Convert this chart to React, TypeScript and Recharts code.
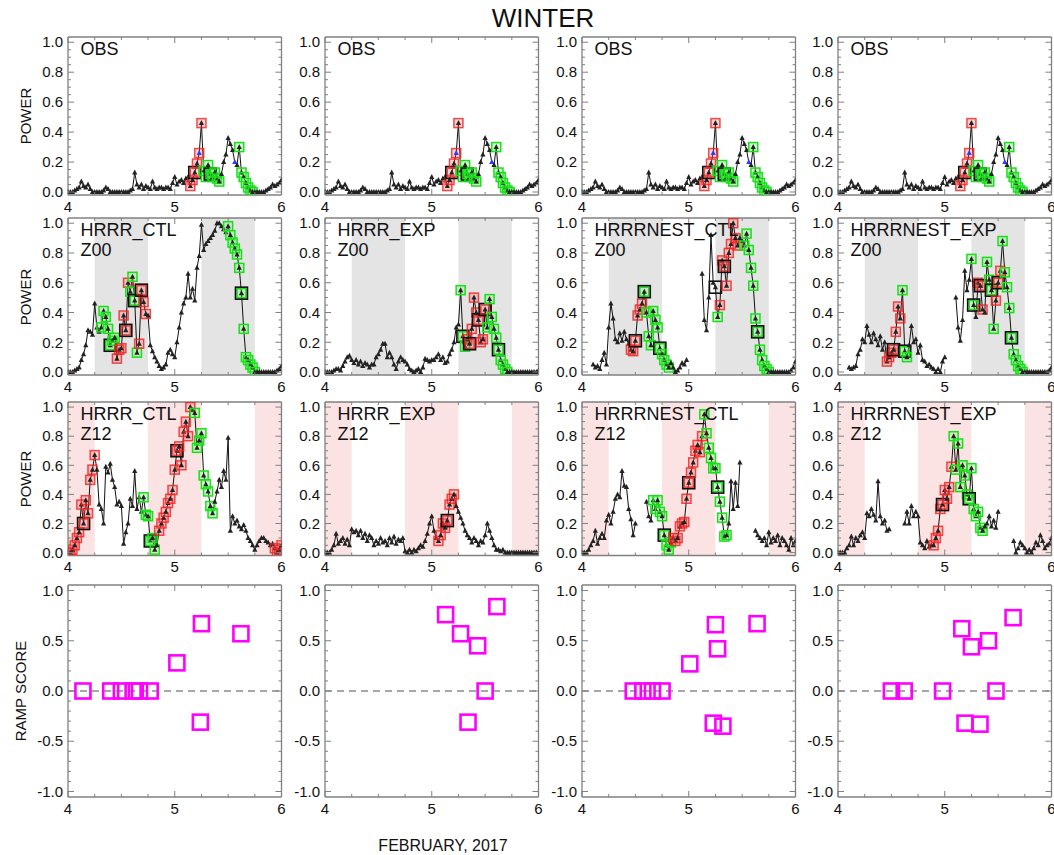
import React from 'react'
import { ComposedChart, Line, Scatter, XAxis, YAxis, ReferenceArea, ReferenceLine } from 'recharts'

// 30-minute steps from Feb 4 00Z to Feb 6 00Z (day of month)
const times = Array.from({ length: 97 }, (_, i) => 4 + i / 48)

const obsPower = [
  0.00, 0.00, 0.00, 0.01, 0.02, 0.03, 0.07, 0.04, 0.03, 0.05,
  0.02, 0.00, 0.00, 0.00, 0.00, 0.00, 0.01, 0.03, 0.02, 0.00,
  0.00, 0.00, 0.00, 0.00, 0.00, 0.00, 0.00, 0.00, 0.01, 0.02,
  0.13, 0.05, 0.03, 0.05, 0.02, 0.04, 0.03, 0.02, 0.07, 0.03,
  0.02, 0.03, 0.03, 0.02, 0.03, 0.03, 0.02, 0.06, 0.10, 0.05,
  0.07, 0.08, 0.06, 0.09, 0.10, 0.04, 0.08, 0.13, 0.19, 0.26,
  0.46, 0.14, 0.10, 0.18, 0.12, 0.10, 0.13, 0.09, 0.07, 0.12,
  0.20, 0.25, 0.36, 0.32, 0.28, 0.20, 0.18, 0.30, 0.13, 0.10,
  0.06, 0.03, 0.01, 0.00, 0.00, 0.00, 0.00, 0.00, 0.00, 0.01,
  0.02, 0.03, 0.05, 0.04, 0.05, 0.06, 0.08,
]

const ctlZ00 = [
  0.00, 0.00, 0.00, 0.01, 0.02, 0.03, 0.08, 0.12, 0.18, 0.28,
  0.27, 0.25, 0.46, 0.30, 0.27, 0.30, 0.41, 0.37, 0.29, 0.18,
  0.21, 0.23, 0.09, 0.15, 0.16, 0.38, 0.28, 0.60, 0.54, 0.64,
  0.48, 0.13, 0.19, 0.55, 0.47, 0.39, 0.38, 0.18, 0.14, 0.10,
  0.07, 0.04, 0.02, 0.03, 0.05, 0.13, 0.15, 0.12, 0.10, 0.20,
  0.30, 0.40, 0.46, 0.50, 0.66, 0.50, 0.56, 0.48, 0.70, 0.78,
  0.99, 0.82, 0.86, 0.88, 0.90, 0.92, 0.95, 1.00, 1.00, 0.98,
  0.96, 0.94, 0.98, 0.92, 0.87, 0.83, 0.79, 0.70, 0.53, 0.29,
  0.10, 0.08, 0.05, 0.03, 0.00, 0.00, 0.00, 0.00, 0.00, 0.00,
  0.00, 0.00, 0.00, 0.00, 0.01, 0.02, 0.04,
]

const expZ00 = [
  0.00, 0.00, 0.00, 0.00, 0.01, 0.02, 0.02, 0.01, 0.04, 0.07,
  0.10, 0.11, 0.08, 0.06, 0.08, 0.05, 0.07, 0.04, 0.06, 0.05,
  0.03, 0.05, 0.05, 0.10, 0.12, 0.15, 0.19, 0.19, 0.10, 0.13,
  0.10, 0.05, 0.02, 0.07, 0.10, 0.08, 0.07, 0.05, 0.02, 0.01,
  0.00, 0.01, 0.02, 0.00, 0.03, 0.09, 0.08, 0.07, 0.08, 0.08,
  0.10, 0.12, 0.08, 0.10, 0.06, 0.07, 0.12, 0.15, 0.20, 0.30,
  0.32, 0.55, 0.24, 0.17, 0.22, 0.19, 0.29, 0.50, 0.40, 0.35,
  0.20, 0.22, 0.42, 0.30, 0.49, 0.37, 0.29, 0.23, 0.15, 0.08,
  0.05, 0.02, 0.00, 0.00, 0.00, 0.00, 0.00, 0.00, 0.00, 0.00,
  0.00, 0.00, 0.00, 0.00, 0.00, 0.00, 0.01,
]

const nestCtlZ00 = [
  null, null, null, null, null, 0.05, 0.03, 0.04, 0.02, 0.08,
  0.13, 0.05, 0.30, 0.46, 0.36, 0.22, 0.20, 0.26, 0.21, 0.27,
  0.22, 0.19, 0.15, 0.14, 0.21, 0.38, 0.42, 0.46, 0.54, 0.40,
  0.24, 0.18, 0.41, 0.35, 0.30, 0.16, 0.12, 0.08, 0.05, 0.03,
  0.06, 0.03, 0.00, 0.01, 0.03, 0.06, 0.05, 0.08, null, null,
  null, null, null, null, 0.66, 0.35, 0.28, 0.50, 0.92, 0.60,
  0.57, 0.37, 0.45, 0.75, 0.71, 0.58, 0.80, 0.86, 1.00, 0.90,
  0.85, 0.90, 0.88, 0.85, 0.93, 0.82, 0.70, 0.58, 0.36, 0.27,
  0.15, 0.08, 0.04, 0.02, 0.00, 0.00, 0.00, 0.00, 0.00, 0.00,
  0.00, 0.00, 0.00, 0.00, 0.01, 0.03, 0.07,
]

const nestExpZ00 = [
  null, null, null, null, null, 0.03, 0.02, 0.03, 0.04, 0.12,
  0.15, 0.22, 0.20, 0.31, 0.25, 0.20, 0.26, 0.22, 0.18, 0.24,
  0.15, 0.20, 0.07, 0.10, 0.13, 0.15, 0.27, 0.44, 0.36, 0.55,
  0.14, 0.10, 0.18, 0.31, 0.20, 0.22, 0.13, 0.18, 0.08, 0.07,
  0.04, 0.05, 0.03, 0.02, 0.00, 0.02, 0.00, 0.07, 0.10, null,
  null, null, null, 0.50, 0.30, 0.21, 0.35, 0.68, 0.55, 0.62,
  0.76, 0.45, 0.37, 0.60, 0.58, 0.42, 0.40, 0.74, 0.62, 0.55,
  0.29, 0.48, 0.60, 0.68, 0.88, 0.67, 0.57, 0.43, 0.23, 0.12,
  0.08, 0.04, 0.02, 0.00, 0.00, 0.00, 0.00, 0.00, 0.00, 0.00,
  0.00, 0.00, 0.00, 0.00, 0.00, 0.01, 0.03,
]

const ctlZ12 = [
  0.00, 0.00, 0.02, 0.05, 0.10, 0.14, 0.33, 0.20, 0.36, 0.27,
  0.50, 0.57, 0.67, 0.57, 0.33, 0.30, 0.20, 0.59, 0.55, 0.61,
  0.50, 0.45, 0.33, 0.35, 0.32, 0.06, 0.14, 0.20, 0.37, 0.32,
  0.56, 0.30, 0.38, 0.28, 0.38, 0.26, 0.25, 0.08, 0.10, 0.02,
  0.05, 0.15, 0.20, 0.24, 0.28, 0.34, 0.37, 0.43, 0.57, 0.70,
  0.73, 0.60, 0.83, 0.90, 0.80, 1.00, 0.98, 0.96, 0.72, 0.77,
  0.82, 0.53, 0.47, 0.42, 0.32, 0.27, 0.35, 0.42, 0.50, 0.45,
  0.56, 0.50, 0.79, 0.15, 0.25, 0.20, 0.22, 0.18, 0.16, 0.19,
  0.15, 0.10, 0.08, 0.05, 0.02, 0.05, 0.08, 0.10, 0.10, 0.08,
  0.07, 0.05, 0.06, 0.03, 0.00, 0.02, 0.05,
]

const expZ12 = [
  0.00, 0.00, 0.00, 0.02, 0.05, 0.13, 0.06, 0.08, 0.10, 0.06,
  0.09, 0.05, 0.16, 0.14, 0.15, 0.12, 0.15, 0.10, 0.13, 0.08,
  0.12, 0.10, 0.05, 0.08, 0.06, 0.10, 0.07, 0.08, 0.05, 0.10,
  0.07, 0.11, 0.06, 0.09, 0.08, 0.10, 0.01, 0.00, 0.02, 0.00,
  0.02, 0.01, 0.03, 0.05, 0.04, 0.08, 0.13, 0.20, 0.25, 0.15,
  0.10, 0.08, 0.12, 0.20, 0.17, 0.22, 0.33, 0.37, 0.40, 0.32,
  0.28, 0.24, 0.20, 0.15, 0.12, 0.10, 0.07, 0.10, 0.08, 0.05,
  0.08, 0.07, 0.12, 0.20, 0.15, 0.10, 0.05, 0.02, 0.02, 0.01,
  0.02, 0.00, 0.00, 0.00, 0.00, 0.00, 0.00, 0.00, 0.00, 0.00,
  0.00, 0.00, 0.00, 0.00, 0.00, 0.00, 0.00,
]

const nestCtlZ12 = [
  0.00, 0.00, 0.00, 0.02, 0.05, 0.08, 0.15, 0.06, 0.10, 0.13,
  0.10, 0.22, 0.26, 0.20, 0.28, 0.37, 0.40, 0.38, 0.56, 0.46,
  0.45, 0.30, 0.23, 0.12, 0.20, null, null, null, null, 0.35,
  0.25, 0.22, 0.36, 0.30, 0.36, 0.28, 0.25, 0.12, 0.05, 0.02,
  0.07, 0.10, 0.08, 0.10, 0.18, 0.20, 0.21, 0.37, 0.48, 0.55,
  0.62, 0.70, 0.74, 0.69, 0.80, 0.95, 0.82, 0.72, 0.65, 0.58,
  0.58, 0.45, 0.35, 0.24, 0.11, 0.12, 0.20, 0.49, 0.30, 0.48,
  0.32, 0.62, null, null, null, null, null, null, 0.15, 0.12,
  0.10, 0.08, 0.10, 0.05, 0.14, 0.07, 0.10, 0.08, 0.12, 0.05,
  0.10, 0.08, 0.05, 0.02, 0.10, 0.05, 0.08,
]

const nestExpZ12 = [
  0.00, 0.00, 0.00, 0.00, 0.03, 0.05, 0.11, 0.05, 0.10, 0.08,
  0.12, 0.14, 0.10, 0.27, 0.25, 0.30, 0.26, 0.22, 0.49, 0.25,
  0.20, 0.22, 0.15, 0.16, null, null, null, null, null, null,
  0.20, 0.28, 0.20, 0.32, 0.25, 0.28, 0.25, 0.07, 0.05, 0.03,
  0.08, 0.04, 0.05, 0.05, 0.10, 0.15, 0.30, 0.33, 0.43, 0.37,
  0.45, 0.59, 0.80, 0.57, 0.75, 0.45, 0.60, 0.53, 0.40, 0.37,
  0.58, 0.30, 0.25, 0.28, 0.17, 0.15, 0.18, 0.20, 0.25, 0.18,
  0.22, 0.17, 0.28, null, null, null, null, null, null, 0.08,
  0.00, 0.03, 0.07, 0.05, 0.03, 0.00, 0.02, 0.00, 0.03, 0.07,
  0.05, 0.12, 0.08, 0.03, 0.05, 0.06, 0.10,
]

// ramp windows in days: up = red boxes, down = green boxes; keys = black boxes
const obsUp = [[5.14, 5.26]]
const obsDown = [[5.27, 5.42], [5.59, 5.74]]
const obsKeys = [5.1875, 5.3333]
const obsBlue = [5.2292, 5.5625]

const ctlZ00Up = [[4.45, 4.57], [4.66, 4.74]]
const ctlZ00Down = [[4.31, 4.44], [4.58, 4.65], [5.49, 5.76]]
const ctlZ00Keys = [4.396, 4.542, 4.625, 4.688, 5.625]

const expZ00Up = [[5.33, 5.51]]
const expZ00Down = [[5.26, 5.32], [5.52, 5.72]]
const expZ00Keys = [5.292, 5.354, 5.438, 5.5, 5.625]

const nestCtlZ00Up = [[4.45, 4.57], [5.29, 5.46]]
const nestCtlZ00Down = [[4.58, 4.82], [5.26, 5.28], [5.52, 5.76]]
const nestCtlZ00Keys = [4.5, 4.583, 4.729, 5.25, 5.333, 5.646]

const nestExpZ00Up = [[4.45, 4.59], [5.30, 5.36], [5.47, 5.53]]
const nestExpZ00Down = [[4.60, 4.65], [5.24, 5.29], [5.38, 5.46], [5.54, 5.74]]
const nestExpZ00Keys = [4.521, 4.625, 5.271, 5.333, 5.438, 5.5, 5.625]

const ctlZ12Up = [[4.0, 4.25], [4.84, 5.16], [5.92, 6.0]]
const ctlZ12Down = [[4.70, 4.83], [5.17, 5.36]]
const ctlZ12Keys = [4.146, 4.771, 5.021]

const expZ12Up = [[5.06, 5.21]]
const expZ12Down: number[][] = []
const expZ12Keys = [5.146]

const nestCtlZ12Up = [[4.85, 5.13]]
const nestCtlZ12Down = [[4.65, 4.84], [5.14, 5.36]]
const nestCtlZ12Keys = [4.771, 5.0, 5.271]

const nestExpZ12Up = [[4.88, 5.07]]
const nestExpZ12Down = [[5.08, 5.36]]
const nestExpZ12Keys = [4.979, 5.229]

// shaded forecast windows
const z00Bands = [[4.25, 4.75], [5.25, 5.75]]
const z12Bands = [[4.0, 4.25], [4.75, 5.25], [5.75, 6.0]]

// ramp scores per column
const ctlScoreT = [4.14, 4.40, 4.50, 4.61, 4.67, 4.77, 5.02, 5.25, 5.24, 5.62]
const ctlScoreV = [0, 0, 0, 0, 0, 0, 0.28, 0.67, -0.31, 0.57]
const expScoreT = [5.13, 5.27, 5.43, 5.61, 5.50, 5.34]
const expScoreV = [0.76, 0.57, 0.45, 0.84, 0, -0.31]
const nestCtlScoreT = [4.48, 4.57, 4.66, 4.75, 5.01, 5.25, 5.27, 5.64, 5.23, 5.32]
const nestCtlScoreV = [0, 0, 0, 0, 0.27, 0.66, 0.42, 0.67, -0.32, -0.35]
const nestExpScoreT = [4.50, 4.62, 4.98, 5.48, 5.16, 5.25, 5.41, 5.64, 5.19, 5.33]
const nestExpScoreV = [0, 0, 0, 0, 0.62, 0.44, 0.50, 0.73, -0.32, -0.33]

// ticks
const dayMajor = [4, 5, 6]
const dayTicks = [4, 4.25, 4.5, 4.75, 5, 5.25, 5.5, 5.75, 6]
const powerMajor = [0, 0.2, 0.4, 0.6, 0.8, 1.0]
const powerTicks = Array.from({ length: 21 }, (_, i) => Math.round(i * 5) / 100)
const scoreMajor = [-1, -0.5, 0, 0.5, 1]
const scoreTicks = Array.from({ length: 21 }, (_, i) => (i - 10) / 10)

const FONT = '"Liberation Sans", Arial, Helvetica, sans-serif'
const AXIS = '#808080'
const COL_LEFT = [68, 325, 582, 838]
const PLOT_W = 213.5
const ROWS = [
  { top: 36.5, h: 158 },
  { top: 218, h: 157 },
  { top: 402, h: 153.5 },
  { top: 585, h: 212 },
]
const ML = 50
const MR = 12
const MT = 10
const MB = 28

type Side = 'left' | 'right' | 'top' | 'bottom'

const isMajor = (v: number, majors: number[]) => majors.some(m => Math.abs(m - v) < 1e-6)

function makeTick(side: Side, majors: number[], fmt?: (v: number) => string) {
  return (props: any) => {
    const { x, y, payload } = props
    const v = payload.value
    const major = isMajor(v, majors)
    const len = major ? 6 : 3
    const label = major && fmt ? fmt(v) : null
    const txt = { fontSize: 15, fill: '#111', fontFamily: FONT }
    if (side === 'left') {
      return (
        <g>
          <line x1={x} x2={x + len} y1={y} y2={y} stroke={AXIS} />
          {label && <text x={x - 5} y={y} dy="0.35em" textAnchor="end" {...txt}>{label}</text>}
        </g>
      )
    }
    if (side === 'right') return <g><line x1={x} x2={x - len} y1={y} y2={y} stroke={AXIS} /></g>
    if (side === 'top') return <g><line x1={x} x2={x} y1={y} y2={y + len} stroke={AXIS} /></g>
    return (
      <g>
        <line x1={x} x2={x} y1={y} y2={y - len} stroke={AXIS} />
        {label && <text x={x} y={y + 6} dy="0.71em" textAnchor="middle" {...txt}>{label}</text>}
      </g>
    )
  }
}

function frameAxes(domain: number[], ticks: number[], majors: number[]) {
  const common = { tickLine: false, tickSize: 0, tickMargin: 0, interval: 0 as const, allowDataOverflow: true, axisLine: { stroke: AXIS, strokeWidth: 1.3 } }
  return [
    <XAxis key="xb" xAxisId="b" dataKey="t" type="number" domain={[4, 6]} ticks={dayTicks} orientation="bottom" height={MB} tick={makeTick('bottom', dayMajor, v => String(v))} {...common} />,
    <XAxis key="xt" xAxisId="t" dataKey="t" type="number" domain={[4, 6]} ticks={dayTicks} orientation="top" height={MT} tick={makeTick('top', dayMajor)} {...common} />,
    <YAxis key="yl" yAxisId="l" type="number" domain={domain} ticks={ticks} width={ML} tick={makeTick('left', majors, v => v.toFixed(1))} {...common} />,
    <YAxis key="yr" yAxisId="r" type="number" domain={domain} ticks={ticks} orientation="right" width={MR} tick={makeTick('right', majors)} {...common} />,
  ]
}

const inWin = (t: number, wins: number[][]) => wins.some(w => t >= w[0] - 1e-6 && t <= w[1] + 1e-6)
const nearIdx = (list: number[], i: number) => list.some(k => Math.round((k - 4) * 48) === i)

const renderDot = (props: any) => {
  const { cx, cy, payload, index } = props
  if (!payload || payload.p == null || !Number.isFinite(cx) || !Number.isFinite(cy)) return <g key={`n${index}`} />
  return (
    <g key={`d${index}`}>
      {payload.up && <rect x={cx - 4.5} y={cy - 4.5} width={9} height={9} fill="#ff5050" fillOpacity={0.25} stroke="#ee2020" strokeOpacity={0.8} strokeWidth={1.5} />}
      {payload.down && <rect x={cx - 4.5} y={cy - 4.5} width={9} height={9} fill="#50ff50" fillOpacity={0.25} stroke="#18e018" strokeWidth={1.5} />}
      {payload.key && <rect x={cx - 6} y={cy - 6} width={12} height={12} fill="none" stroke="#111" strokeWidth={1.6} />}
      <polygon points={`${cx},${cy - 3} ${cx - 2.6},${cy + 2} ${cx + 2.6},${cy + 2}`} fill={payload.blue ? '#2a3cff' : '#222'} />
    </g>
  )
}

const renderSquare = (props: any) => {
  const { cx, cy } = props
  return <rect x={cx - 7.5} y={cy - 7.5} width={15} height={15} fill="none" stroke="#ff00ff" strokeWidth={2.6} />
}

interface PanelCfg {
  series: (number | null)[]
  up: number[][]
  down: number[][]
  keys: number[]
  blue?: number[]
  name: string
  run?: string
  bands: number[][]
  bandFill: string
}

function PowerPanel({ col, row, cfg }: { col: number; row: number; cfg: PanelCfg }) {
  const { top, h } = ROWS[row]
  const data = times.map((t, i) => ({
    t,
    p: cfg.series[i],
    up: inWin(t, cfg.up),
    down: inWin(t, cfg.down),
    key: nearIdx(cfg.keys, i),
    blue: cfg.blue ? nearIdx(cfg.blue, i) : false,
  }))
  return (
    <div style={{ position: 'absolute', left: COL_LEFT[col] - ML, top: top - MT }}>
      <ComposedChart width={ML + PLOT_W + MR} height={MT + h + MB} data={data} margin={{ top: 0, right: 0, bottom: 0, left: 0 }}>
        {cfg.bands.map((b, i) => (
          <ReferenceArea key={i} xAxisId="b" yAxisId="l" x1={b[0]} x2={b[1]} fill={cfg.bandFill} fillOpacity={1} stroke="none" />
        ))}
        {frameAxes([-0.02, 1.035], powerTicks, powerMajor)}
        <Line xAxisId="b" yAxisId="l" type="linear" dataKey="p" stroke="#111" strokeWidth={1} dot={renderDot} activeDot={false} connectNulls={false} isAnimationActive={false} />
      </ComposedChart>
      <div style={{ position: 'absolute', left: ML + 12.5, top: MT + 3.4, fontSize: 18, lineHeight: '19.4px', color: '#111', whiteSpace: 'pre', pointerEvents: 'none' }}>
        {cfg.name}{cfg.run ? '\n' + cfg.run : ''}
      </div>
    </div>
  )
}

function ScorePanel({ col, ts, vs }: { col: number; ts: number[]; vs: number[] }) {
  const { top, h } = ROWS[3]
  const data = ts.map((t, i) => ({ t, s: vs[i] }))
  return (
    <div style={{ position: 'absolute', left: COL_LEFT[col] - ML, top: top - MT }}>
      <ComposedChart width={ML + PLOT_W + MR} height={MT + h + MB} margin={{ top: 0, right: 0, bottom: 0, left: 0 }}>
        {frameAxes([-1.055, 1.055], scoreTicks, scoreMajor)}
        <ReferenceLine xAxisId="b" yAxisId="l" y={0} stroke="#8a8a8a" strokeWidth={1.6} strokeDasharray="7 5" />
        <Scatter xAxisId="b" yAxisId="l" data={data} dataKey="s" shape={renderSquare} isAnimationActive={false} />
      </ComposedChart>
    </div>
  )
}

const obsCfg: PanelCfg = { series: obsPower, up: obsUp, down: obsDown, keys: obsKeys, blue: obsBlue, name: 'OBS', bands: [], bandFill: '' }

const z00Cfgs: PanelCfg[] = [
  { series: ctlZ00, up: ctlZ00Up, down: ctlZ00Down, keys: ctlZ00Keys, name: 'HRRR_CTL', run: 'Z00', bands: z00Bands, bandFill: '#e4e4e4' },
  { series: expZ00, up: expZ00Up, down: expZ00Down, keys: expZ00Keys, name: 'HRRR_EXP', run: 'Z00', bands: z00Bands, bandFill: '#e4e4e4' },
  { series: nestCtlZ00, up: nestCtlZ00Up, down: nestCtlZ00Down, keys: nestCtlZ00Keys, name: 'HRRRNEST_CTL', run: 'Z00', bands: z00Bands, bandFill: '#e4e4e4' },
  { series: nestExpZ00, up: nestExpZ00Up, down: nestExpZ00Down, keys: nestExpZ00Keys, name: 'HRRRNEST_EXP', run: 'Z00', bands: z00Bands, bandFill: '#e4e4e4' },
]

const z12Cfgs: PanelCfg[] = [
  { series: ctlZ12, up: ctlZ12Up, down: ctlZ12Down, keys: ctlZ12Keys, name: 'HRRR_CTL', run: 'Z12', bands: z12Bands, bandFill: '#fce3e3' },
  { series: expZ12, up: expZ12Up, down: expZ12Down, keys: expZ12Keys, name: 'HRRR_EXP', run: 'Z12', bands: z12Bands, bandFill: '#fce3e3' },
  { series: nestCtlZ12, up: nestCtlZ12Up, down: nestCtlZ12Down, keys: nestCtlZ12Keys, name: 'HRRRNEST_CTL', run: 'Z12', bands: z12Bands, bandFill: '#fce3e3' },
  { series: nestExpZ12, up: nestExpZ12Up, down: nestExpZ12Down, keys: nestExpZ12Keys, name: 'HRRRNEST_EXP', run: 'Z12', bands: z12Bands, bandFill: '#fce3e3' },
]

const scoreSets = [
  [ctlScoreT, ctlScoreV],
  [expScoreT, expScoreV],
  [nestCtlScoreT, nestCtlScoreV],
  [nestExpScoreT, nestExpScoreV],
]

const sideLabel = (text: string, cy: number, cx: number) => (
  <div style={{ position: 'absolute', left: cx, top: cy, transform: 'translate(-50%, -50%) rotate(-90deg)', fontSize: 15, whiteSpace: 'nowrap', color: '#111' }}>
    {text}
  </div>
)

export default function App() {
  return (
    <div style={{ position: 'absolute', left: 0, top: 0, width: 1054, height: 855, background: '#fff', fontFamily: FONT, overflow: 'hidden' }}>
      <div style={{ position: 'absolute', left: 443, top: 5, width: 200, textAlign: 'center', fontSize: 26, lineHeight: '26px', color: '#111' }}>WINTER</div>

      {[0, 1, 2, 3].map(c => <PowerPanel key={`o${c}`} col={c} row={0} cfg={obsCfg} />)}
      {z00Cfgs.map((cfg, c) => <PowerPanel key={`a${c}`} col={c} row={1} cfg={cfg} />)}
      {z12Cfgs.map((cfg, c) => <PowerPanel key={`b${c}`} col={c} row={2} cfg={cfg} />)}
      {scoreSets.map((s, c) => <ScorePanel key={`s${c}`} col={c} ts={s[0]} vs={s[1]} />)}

      {sideLabel('POWER', ROWS[0].top + ROWS[0].h / 2, 25)}
      {sideLabel('POWER', ROWS[1].top + ROWS[1].h / 2, 25)}
      {sideLabel('POWER', ROWS[2].top + ROWS[2].h / 2, 25)}
      {sideLabel('RAMP SCORE', ROWS[3].top + ROWS[3].h / 2, 20)}

      <div style={{ position: 'absolute', left: 343, top: 837.5, width: 200, textAlign: 'center', fontSize: 16, lineHeight: '16px', color: '#111' }}>FEBRUARY, 2017</div>
    </div>
  )
}
